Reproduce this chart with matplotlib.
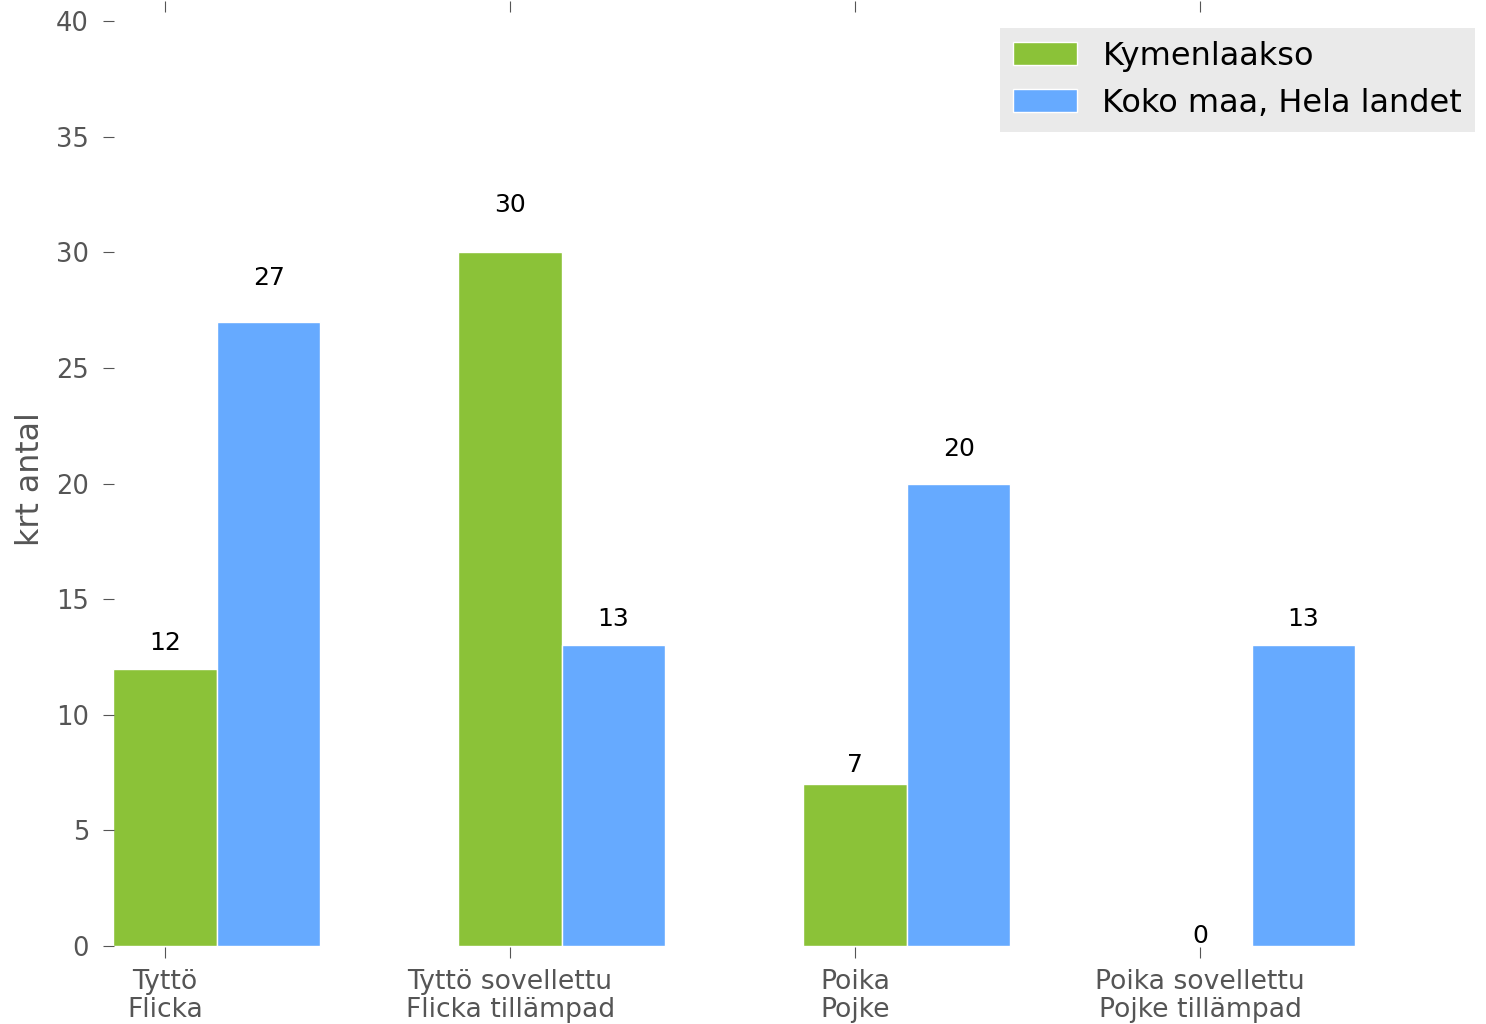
import numpy as np
import matplotlib
matplotlib.use('Agg')
import matplotlib.pyplot as plt

# data
categories = ['Tyttö\nFlicka', 'Tyttö sovellettu\nFlicka tillämpad',
              'Poika\nPojke', 'Poika sovellettu\nPojke tillämpad']
kymenlaakso = [12, 30, 7, 0]
koko_maa = [27, 13, 20, 13]
series_names = ['Kymenlaakso', 'Koko maa, Hela landet']

green = '#8bc238'
blue = '#66aaff'
grey = '#555555'

fig = plt.figure(figsize=(14.86, 10.24), dpi=100)
ax = fig.add_axes([103 / 1486, 1 - 958 / 1024, (1480 - 103) / 1486, (958 - 1) / 1024])

x = np.arange(len(categories))
w = 0.3
b1 = ax.bar(x, kymenlaakso, w, color=green, edgecolor='white', linewidth=1,
            label=series_names[0])
b2 = ax.bar(x + w, koko_maa, w, color=blue, edgecolor='white', linewidth=1,
            label=series_names[1])

# value labels above bars
for bars, vals in ((b1, kymenlaakso), (b2, koko_maa)):
    for rect, v in zip(bars, vals):
        ax.text(rect.get_x() + rect.get_width() / 2, v * 1.053 + 0.45, str(v),
                ha='center', va='center', fontsize=18, color='black')

ax.set_xlim(-0.18, -0.18 + (1480 - 103) / 345)
ax.set_ylim(-0.52, 40.87)
ax.set_yticks(np.arange(0, 41, 5))
ax.set_xticks(x)
ax.set_xticklabels(categories, fontsize=19.2, color=grey, linespacing=1.1)
ax.tick_params(axis='y', labelsize=18.5, labelcolor=grey, direction='in',
               length=8, color=grey, pad=10)
ax.tick_params(axis='x', direction='in', length=8, color=grey, top=True, pad=8)
ax.set_ylabel('krt antal', fontsize=22.8, color=grey, labelpad=7)

for s in ax.spines.values():
    s.set_visible(False)

leg = ax.legend(loc='upper right', bbox_to_anchor=(1475 / 1486, 1 - 28 / 1024),
                bbox_transform=fig.transFigure, borderaxespad=0, fontsize=23,
                fancybox=False, frameon=True)
leg.get_frame().set_facecolor('#e5e5e5')
leg.get_frame().set_edgecolor('none')

fig.savefig('out.png', dpi=100)
